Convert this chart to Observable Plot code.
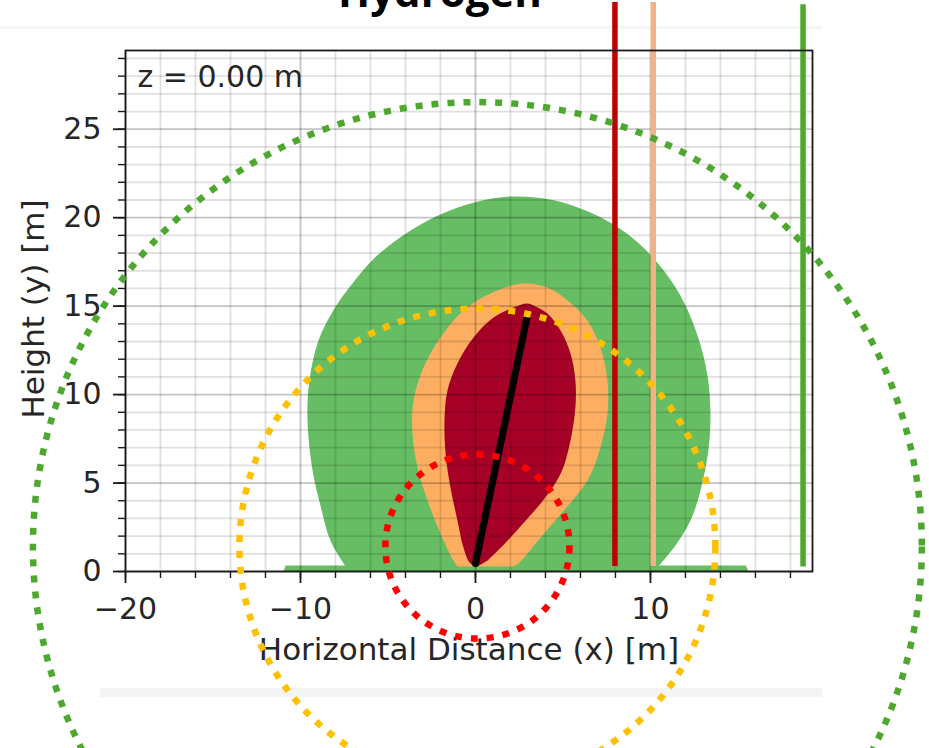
<!DOCTYPE html>
<html>
<head>
<meta charset="utf-8">
<script src="https://cdn.jsdelivr.net/npm/d3@7"></script>
<script src="https://cdn.jsdelivr.net/npm/@observablehq/plot@0.6"></script>
<style>
  html, body { margin: 0; padding: 0; background: #fff; }
  body { width: 929px; height: 748px; overflow: hidden; position: relative; }
  #band1 { position: absolute; left: 0; top: 26px; width: 822px; height: 3px; background: #f5f5f5; }
  #band2 { position: absolute; left: 100px; top: 688px; width: 722px; height: 9px; background: #f4f4f4; }
  #chart { position: absolute; left: 0; top: 0; }
  #title { position: absolute; left: 0; width: 880px; top: -30px; text-align: center;
           font: 700 42px "Open Sans", sans-serif; line-height: 42px; color: #000; }
</style>
</head>
<body>
<div id="band1"></div>
<div id="band2"></div>
<div id="chart"></div>
<div id="title">Hydrogen</div>
<script>
// ---- data ----
const titleText = "Hydrogen";
const panelLabel = "z = 0.00 m";
const xLabel = "Horizontal Distance (x) [m]";
const yLabel = "Height (y) [m]";

const xDomain = [-20, 19.26];
const yDomain = [0, 29.45];
const xMajorTicks = [-20, -10, 0, 10];
const xMinorTicks = [-20, -18, -16, -14, -12, -10, -8, -6, -4, -2, 0, 2, 4, 6, 8, 10, 12, 14, 16, 18];
const yMajorTicks = [0, 5, 10, 15, 20, 25];
const yMinorTicks = [0, 1, 2, 3, 4, 5, 6, 7, 8, 9, 10, 11, 12, 13, 14, 15, 16, 17, 18, 19, 20, 21, 22, 23, 24, 25, 26, 27, 28, 29];

// outer (green) zone: thin ground strip and main body, [x, y] in metres
const greenStrip = [[-10.97, 0], [-10.85, 0.34], [15.45, 0.34], [15.6, 0]];
const greenZone = [
  [-7.43, 0.3], [-8.29, 1.75], [-8.86, 3.73], [-9.31, 5.71],
  [-9.6, 8.54], [-9.49, 10.8], [-8.97, 13.06], [-8.1, 14.8], [-7.1, 16.2], [-5.9, 17.6],
  [-4.29, 18.9], [-2.2, 20.1], [0.1, 20.9], [2.2, 21.2], [4.4, 21.0], [6.57, 20.29],
  [8.57, 19.16], [10.29, 17.58], [11.71, 15.6], [12.69, 13.34], [13.26, 11.08], [13.43, 8.82],
  [13.31, 6.84], [12.86, 4.58], [12.29, 2.88], [11.43, 1.47], [10.46, 0.3]
];
// middle (orange) zone outline
const orangeZone = [
  [-1.03, 0.28], [-1.26, 0.62], [-2.0, 2.15], [-2.74, 4.01], [-3.31, 5.88], [-3.6, 7.8],
  [-3.54, 9.67], [-2.97, 11.53], [-2.0, 13.23], [-0.69, 14.75], [0.86, 15.72], [2.74, 16.28],
  [4.11, 16.05], [5.26, 15.32], [6.4, 14.19], [7.14, 12.66], [7.54, 10.8], [7.54, 8.93],
  [7.14, 7.01], [6.4, 5.14], [5.1, 3.5], [3.7, 1.9], [2.5, 0.5], [2.17, 0.28]
];
// inner (dark red) zone outline
const redZone = [
  [0.11, 0.28], [-0.29, 0.45], [-0.69, 1.36], [-1.03, 2.88], [-1.43, 4.75], [-1.71, 6.67],
  [-1.77, 8.54], [-1.6, 10.23], [-1.03, 11.76], [-0.11, 13.23], [1.03, 14.36], [2.17, 14.92],
  [2.97, 15.15], [3.31, 15.04], [4.11, 14.58], [4.86, 13.62], [5.43, 12.32], [5.71, 10.8],
  [5.71, 9.27], [5.43, 7.41], [4.9, 5.6], [4.0, 4.2], [2.8, 2.8], [1.6, 1.5], [0.69, 0.62]
];
// jet axis
const plumeAxis = [[0.0, 0.45], [2.95, 14.38]];

// vertical limit lines
const limitX = [7.97, 10.16, 18.72];
const limitBottom = [0.28, 0.28, 0.25];
const limitTop = [32.16, 32.16, 32.03];

// dotted distance circles
const circleCenterX = 0.11;
const circleCenterY = 1.41;
const circleRadii = [5.26, 13.6, 25.4];

// ---- styles ----
const zoneColors = { green: "#66bd63", orange: "#fdae61", red: "#a50026" };
const limitColors = ["#c00000", "#f4b183", "#4ea72e"];
const circleColors = ["#ff0000", "#ffc000", "#4ea72e"];

const W = 929, H = 748;
const mL = 125, mR = 117, mT = 50, mB = 177;
const pxPerM = (W - mL - mR) / (xDomain[1] - xDomain[0]);
const minusFmt = d => d < 0 ? "\u2212" + Math.abs(d) : String(d);
const px = d => d[0], py = d => d[1];

const chart = Plot.plot({
  width: W, height: H,
  marginLeft: mL, marginRight: mR, marginTop: mT, marginBottom: mB,
  x: { domain: xDomain },
  y: { domain: yDomain },
  r: { type: "linear", domain: [0, 10], range: [0, 10 * pxPerM] },
  color: { type: "identity" },
  style: { background: "transparent", fontFamily: "DejaVu Sans", color: "#262626", overflow: "visible" },
  marks: [
    Plot.line(greenStrip, { x: px, y: py, fill: zoneColors.green, stroke: "none" }),
    Plot.line(greenZone, { x: px, y: py, fill: zoneColors.green, stroke: "none", curve: "catmull-rom" }),
    Plot.line(orangeZone, { x: px, y: py, fill: zoneColors.orange, stroke: "none", curve: "catmull-rom" }),
    Plot.line(redZone, { x: px, y: py, fill: zoneColors.red, stroke: "none", curve: "catmull-rom" }),
    Plot.gridX(xMinorTicks, { stroke: "#000", strokeOpacity: 0.12, strokeWidth: 1.8 }),
    Plot.gridY(yMinorTicks, { stroke: "#000", strokeOpacity: 0.12, strokeWidth: 1.8 }),
    Plot.gridX(xMajorTicks, { stroke: "#000", strokeOpacity: 0.12, strokeWidth: 1.8 }),
    Plot.gridY(yMajorTicks, { stroke: "#000", strokeOpacity: 0.12, strokeWidth: 1.8 }),
    Plot.line(plumeAxis, { x: px, y: py, stroke: "#000", strokeWidth: 7, strokeLinecap: "round" }),
    Plot.ruleX(limitX, { x: d => d, y1: (d, i) => limitBottom[i], y2: (d, i) => limitTop[i],
      stroke: (d, i) => limitColors[i], strokeWidth: 5.5 }),
    Plot.frame({ stroke: "#1a1a1a", strokeWidth: 1.8 }),
    Plot.axisX(xMinorTicks, { tickSize: 7, tickFormat: () => "", label: null, stroke: "#1a1a1a", strokeWidth: 1.4 }),
    Plot.axisY(yMinorTicks, { tickSize: 7, tickFormat: () => "", label: null, stroke: "#1a1a1a", strokeWidth: 1.4 }),
    Plot.axisX(xMajorTicks, { tickSize: 12, tickPadding: 14, fontSize: 30, tickFormat: minusFmt, label: null,
      stroke: "#1a1a1a", strokeWidth: 1.8, fill: "#262626" }),
    Plot.axisY(yMajorTicks, { tickSize: 12, tickPadding: 12, fontSize: 30, tickFormat: minusFmt, label: null,
      stroke: "#1a1a1a", strokeWidth: 1.8, fill: "#262626" }),
    Plot.text([panelLabel], { text: d => d, frameAnchor: "top-left", dx: 12, dy: 27, textAnchor: "start",
      lineAnchor: "middle", fontSize: 30, fill: "#262626" }),
    Plot.text([xLabel], { text: d => d, frameAnchor: "bottom", dy: 88, fontSize: 31, fill: "#262626" }),
    Plot.text([yLabel], { text: d => d, frameAnchor: "left", dx: -91, dy: -2, rotate: -90, textAnchor: "middle",
      fontSize: 31, fill: "#262626" }),
    Plot.dot(circleRadii, { x: () => circleCenterX, y: () => circleCenterY, r: d => d,
      stroke: (d, i) => circleColors[i], fill: "none", strokeWidth: 6.5, strokeDasharray: "7,9" })
  ]
});
document.getElementById("chart").appendChild(chart);
document.getElementById("title").textContent = titleText;
</script>
</body>
</html>
